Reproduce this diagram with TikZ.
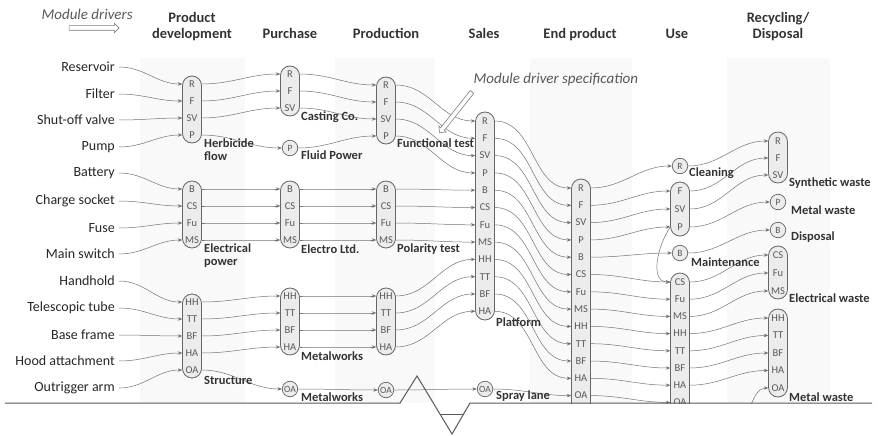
\documentclass[tikz,border=0pt]{standalone}
\usepackage{fontspec}
\setmainfont{Carlito}
\usetikzlibrary{arrows.meta,shapes.arrows}

\tikzset{
  heading/.style={font=\fontsize{14.5}{17}\selectfont\bfseries, text=black!80, align=center, anchor=base},
  rowlabel/.style={font=\fontsize{14}{16}\selectfont, text=black!85, anchor=east, inner sep=4pt},
  item/.style={font=\fontsize{10.5}{11}\selectfont, text=black!65, minimum width=19pt, inner sep=0pt},
  ball/.style={circle, draw=black!60, fill=gray!15, line width=0.7pt, minimum size=15.5pt, inner sep=0pt,
    font=\fontsize{9.5}{10}\selectfont, text=black!65},
  pill/.style={draw=black!60, fill=gray!15, line width=0.8pt, rounded corners=9.5pt},
  wire/.style={draw=black!55, line width=0.5pt, -{Stealth[length=4.5pt,width=3.5pt]}, out=0, in=180},
  grouplabel/.style={font=\fontsize{12.5}{12.5}\selectfont\bfseries, text=black!80, anchor=west, align=left, inner sep=1pt},
  colband/.style={fill=gray!5},
  hint/.style={font=\fontsize{15}{17}\selectfont\itshape, text=black!65},
  hollow/.style={single arrow, draw=black!50, fill=white, line width=0.6pt, inner sep=2pt,
    single arrow head extend=2.5pt, single arrow head indent=0pt}
}

\begin{document}
\begin{tikzpicture}[x=1pt,y=-1pt]
    \useasboundingbox (0,0) rectangle (878,436);

    % light bands behind every second stage
    \foreach \a/\b in {140/245, 335/435, 530/632, 727/830}
        \fill[colband] (\a,58) rectangle (\b,403);

    % stage headings
    \node[heading] (h-pd) at (192,39) {Product\\development};
    \node[heading] (h-pu) at (290,39) {Purchase};
    \node[heading] (h-pr) at (386,39) {Production};
    \node[heading] (h-sa) at (484,39) {Sales};
    \node[heading] (h-ep) at (580,39) {End product};
    \node[heading] (h-us) at (677,39) {Use};
    \node[heading] (h-re) at (778,39) {Recycling/\\Disposal};

    \node[hint, anchor=west] (md) at (38,14) {Module drivers};
    \node[hollow, minimum height=50pt] (md-arrow) at (93,28) {};

    % module drivers
    \foreach \n/\t/\y in {R/Reservoir/67, F/Filter/94, SV/Shut-off valve/120, P/Pump/147,
                          B/Battery/173, CS/Charge socket/201, Fu/Fuse/228, MS/Main switch/254,
                          HH/Handhold/281, TT/Telescopic tube/308, BF/Base frame/335,
                          HA/Hood attachment/361, OA/Outrigger arm/388}
        \node[rowlabel] (lab-\n) at (119,\y) {\t};

    % pills
    \foreach \x/\t/\b in {192/76/143, 192/181/248, 192/294/378,
                          290/66/116, 290/181/248, 290/288/355,
                          386/77/144, 386/181/248, 386/288/355,
                          485/112/320, 581/179/420,
                          680/182/236, 680/273/420,
                          778/132/183, 778/246/299, 778/309/397}
        \draw[pill] (\x-9.5,\t) rectangle (\x+9.5,\b);

    % product development
    \foreach \n [count=\i from 0] in {R,F,SV,P}
        \node[item] (pd-\n) at (192,84+17*\i) {\n};
    \foreach \n [count=\i from 0] in {B,CS,Fu,MS}
        \node[item] (pd-\n) at (192,189+17*\i) {\n};
    \foreach \n [count=\i from 0] in {HH,TT,BF,HA,OA}
        \node[item] (pd-\n) at (192,302+17*\i) {\n};

    % purchase
    \foreach \n [count=\i from 0] in {R,F,SV}
        \node[item] (pu-\n) at (290,74+17*\i) {\n};
    \node[ball] (pu-P) at (290,148) {P};
    \foreach \n [count=\i from 0] in {B,CS,Fu,MS}
        \node[item] (pu-\n) at (290,189+17*\i) {\n};
    \foreach \n [count=\i from 0] in {HH,TT,BF,HA}
        \node[item] (pu-\n) at (290,296+17*\i) {\n};
    \node[ball] (pu-OA) at (290,389) {OA};

    % production
    \foreach \n [count=\i from 0] in {R,F,SV,P}
        \node[item] (pr-\n) at (386,85+17*\i) {\n};
    \foreach \n [count=\i from 0] in {B,CS,Fu,MS}
        \node[item] (pr-\n) at (386,189+17*\i) {\n};
    \foreach \n [count=\i from 0] in {HH,TT,BF,HA}
        \node[item] (pr-\n) at (386,296+17*\i) {\n};
    \node[ball] (pr-OA) at (386,390) {OA};

    % sales
    \foreach \n [count=\i from 0] in {R,F,SV,P,B,CS,Fu,MS,HH,TT,BF,HA}
        \node[item] (sa-\n) at (485,121+17.3*\i) {\n};
    \node[ball] (sa-OA) at (485,389) {OA};

    % end product
    \foreach \n [count=\i from 0] in {R,F,SV,P,B,CS,Fu,MS,HH,TT,BF,HA,OA}
        \node[item] (ep-\n) at (581,188+17.3*\i) {\n};

    % use
    \node[ball] (us-R) at (680,166) {R};
    \foreach \n [count=\i from 0] in {F,SV,P}
        \node[item] (us-\n) at (680,191+18*\i) {\n};
    \node[ball] (us-B) at (680,253) {B};
    \foreach \n [count=\i from 0] in {CS,Fu,MS,HH,TT,BF,HA,OA}
        \node[item] (us-\n) at (680,282+17.2*\i) {\n};

    % recycling / disposal
    \foreach \n [count=\i from 0] in {R,F,SV}
        \node[item] (re-\n) at (778,141+17*\i) {\n};
    \node[ball] (re-P) at (778,202) {P};
    \node[ball] (re-B) at (778,230) {B};
    \foreach \n [count=\i from 0] in {CS,Fu,MS}
        \node[item] (re-\n) at (778,255+18*\i) {\n};
    \foreach \n [count=\i from 0] in {HH,TT,BF,HA,OA}
        \node[item] (re-\n) at (778,318+17.5*\i) {\n};

    % flows between stages
    \foreach \n in {R,F,SV,P,B,CS,Fu,MS,HH,TT,BF,HA,OA} {
        \draw[wire] (lab-\n) to (pd-\n);
        \draw[wire] (pd-\n) to (pu-\n);
        \draw[wire] (pu-\n) to (pr-\n);
        \draw[wire] (pr-\n) to (sa-\n);
        \draw[wire] (sa-\n) to (ep-\n);
        \draw[wire] (ep-\n) to (us-\n);
    }
    \foreach \n in {R,F,SV,P,B,CS,Fu,MS,HH,TT,BF,HA}
        \draw[wire] (us-\n) to (re-\n);
    \draw[wire] (us-P.west) to[out=235,in=180] (us-CS.west);
    \coordinate (oa-foot) at (751,405);
    \draw[wire] (oa-foot) to[out=70,in=180] (re-OA);

    % group labels
    \node[grouplabel, anchor=north west] (g-herb) at (203,138) {Herbicide\\flow};
    \node[grouplabel, anchor=north west] (g-elec) at (203,243) {Electrical\\power};
    \node[grouplabel] (g-struc) at (203,380) {Structure};
    \node[grouplabel] (g-cast) at (300,117) {Casting Co.};
    \node[grouplabel] (g-fluid) at (300,155) {Fluid Power};
    \node[grouplabel] (g-eltd) at (300,249) {Electro Ltd.};
    \node[grouplabel] (g-metal) at (300,356) {Metalworks};
    \node[grouplabel] (g-metal2) at (300,397) {Metalworks};
    \node[grouplabel] (g-func) at (396,143) {Functional test};
    \node[grouplabel] (g-pol) at (396,249) {Polarity test};
    \node[grouplabel] (g-plat) at (495,322) {Platform};
    \node[grouplabel] (g-spray) at (495,396) {Spray lane};
    \node[grouplabel] (g-clean) at (688,173) {Cleaning};
    \node[grouplabel] (g-maint) at (690,262) {Maintenance};
    \node[grouplabel] (g-synth) at (788,183) {Synthetic waste};
    \node[grouplabel] (g-mw) at (790,210) {Metal waste};
    \node[grouplabel] (g-disp) at (790,237) {Disposal};
    \node[grouplabel] (g-ew) at (788,298) {Electrical waste};
    \node[grouplabel] (g-mw2) at (788,397) {Metal waste};

    % module driver specification callout
    \node[hint, anchor=west] (spec) at (470,80) {Module driver specification};
    \node[hollow, minimum height=52pt, rotate=231.5] (spec-arrow) at (456.5,111.5) {};

    % base line with break
    \fill[white] (490,404) rectangle (878,436);
    \draw[black!65, line width=1pt] (5,403) -- (400,403) -- (417,376) -- (452,434) -- (470,403) -- (872,403);
    \draw[black!65, line width=1pt] (440,414) -- (464,414);
\end{tikzpicture}
\end{document}
